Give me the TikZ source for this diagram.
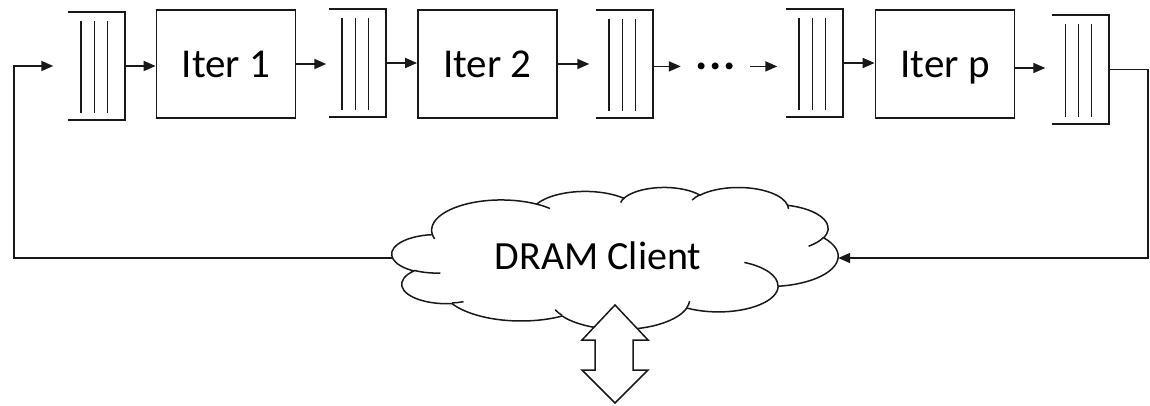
\documentclass[tikz,border=0pt]{standalone}
\usepackage{fontspec}
\setmainfont{Carlito}
\usetikzlibrary{arrows.meta,calc}
\newcommand\cldarc[4]{%
  \pgfextra{%
    \pgfmathparse{atan2((#1)*sin(#3),(#2)*cos(#3))}\global\let\cldA\pgfmathresult
    \pgfmathparse{atan2((#1)*sin((#3)+(#4)),(#2)*cos((#3)+(#4)))}\global\let\cldB\pgfmathresult
    \pgfmathparse{\cldB-\cldA}\global\let\cldD\pgfmathresult
    \pgfmathparse{ifthenelse((#4)>0, ifthenelse(\cldD<0,\cldD+360,\cldD), ifthenelse(\cldD>0,\cldD-360,\cldD))}\global\let\cldD\pgfmathresult
  }%
  arc[x radius=#1, y radius=#2, start angle=\cldA, delta angle=\cldD]}
\tikzset{
  ln/.style={line width=1.8pt, draw=black!90},
  iterbox/.style={ln, draw, minimum width=139pt, minimum height=108pt, inner sep=0pt,
    text height=28pt, text depth=0pt, font=\fontsize{41}{48}\selectfont},
  qframe/.style={minimum width=56pt, minimum height=108pt, inner sep=0pt},
  conn/.style={ln, -{Triangle[length=12pt,width=10pt]}},
  cloudline/.style={line width=1.5pt, draw=black!90},
}
\newcommand\drawqueue[1]{%
  \draw[ln] (#1.north west) -- (#1.north east) -- (#1.south east) -- (#1.south west);
  \foreach \f in {0.232,0.464,0.696}
    \draw[ln] ($(#1.north west)!\f!(#1.north east)+(0,9)$) -- ($(#1.south west)!\f!(#1.south east)+(0,-7)$);
}
\begin{document}
\begin{tikzpicture}[x=1pt,y=-1pt]
\useasboundingbox (0,0) rectangle (1150,406);
% queues and iteration boxes
\node[qframe] (q1) at (96.5,66) {};
\node[iterbox] (it1) at (226,64) {Iter 1};
\node[qframe] (q2) at (357.5,63) {};
\node[iterbox] (it2) at (487.5,64) {Iter 2};
\node[qframe] (q3) at (624.5,64) {};
\node[anchor=base, inner sep=0pt, font=\fontsize{46}{52}\selectfont\bfseries] (dots) at (716,69.5) {.\kern1.6pt.\kern1.6pt.};
\node[qframe] (q4) at (814.5,63) {};
\node[iterbox] (itp) at (945,64) {Iter p};
\node[qframe] (q5) at (1080.5,69.5) {};
\drawqueue{q1}
\drawqueue{q2}
\drawqueue{q3}
\drawqueue{q4}
\drawqueue{q5}
% cloud
\node[minimum width=446pt, minimum height=142pt, inner sep=0pt] (cloud) at (615,258) {};
\begin{scope}[shift={(392,187)}, x=0.10324pt, y=-0.03287pt]
\draw[cloudline, fill=white] (390,1437)
  \cldarc{675.3}{919.0}{-190.4875}{123.7805}
  \cldarc{533.3}{726.7}{-144.1024}{89.9452}
  \cldarc{436.5}{594.5}{-145.8079}{99.7230}
  \cldarc{485.7}{659.5}{-130.9861}{117.2417}
  \cldarc{533.3}{727.3}{-78.7089}{109.0269}
  \cldarc{677.5}{922.0}{-46.2673}{130.2690}
  \cldarc{578.5}{786.7}{0.6250}{114.0333}
  \cldarc{675.2}{921.5}{22.4516}{115.1726}
  \cldarc{772.0}{1054.3}{66.2426}{75.7110}
  \cldarc{436.0}{591.8}{-274.9421}{146.7356}
  \cldarc{434.5}{594.5}{-246.8285}{152.5189}
  -- cycle;
\draw[cloudline]
  (469.3,2617.7) \cldarc{434.5}{594.5}{86.7420}{26.4295}
  (692.8,3489.9) \cldarc{436.0}{591.8}{73.6105}{11.4475}
  (1647.8,3909.0) \cldarc{675.2}{921.5}{137.6242}{14.0811}
  (2882.7,3475.1) \cldarc{675.2}{921.5}{6.4533}{15.9984}
  (3412.9,2295.4) \cldarc{578.5}{786.7}{-70.2924}{70.9174}
  (4179.8,1535.4) \cldarc{533.3}{727.3}{30.3180}{27.7515}
  (3832.4,542.6) \cldarc{485.7}{659.5}{-13.7443}{14.8589}
  (2907.8,395.2) \cldarc{485.7}{659.5}{-149.1815}{18.1954}
  (2214.1,472.0) \cldarc{436.5}{594.5}{-163.4943}{17.6864}
  (1400.0,519.2) \cldarc{675.3}{919.0}{-66.7070}{12.3194}
  (412.7,1578.9) \cldarc{675.3}{919.0}{157.6544}{11.8582};
\end{scope}
\node[inner sep=0pt, font=\fontsize{40}{48}\selectfont] (dram) at (598,256) {DRAM Client};
% double arrow
\draw[cloudline, fill=white] (615,305) -- (648,340) -- (633,340) -- (633,370) -- (648,370)
  -- (615,403) -- (582,370) -- (595,370) -- (595,340) -- (582,340) -- cycle;
% connectors
\coordinate (fbL) at (14,258);
\coordinate (fbR) at (1148,258);
\draw[conn, shorten >=15pt] (cloud.west) -- (fbL) |- (q1.west);
\draw[conn] (q1.east) -- (q1.east -| it1.west);
\draw[conn, shorten >=3pt] (it1.east) -- (it1.east -| q2.west);
\draw[conn] (q2.east) -- (q2.east -| it2.west);
\draw[conn, shorten >=7pt] (it2.east) -- (it2.east -| q3.west);
\draw[conn] (q3.east |- dots.west) -- ($(dots.west)+(-15,0)$);
\draw[conn, shorten >=9pt] ($(dots.east)+(14,0)$) -- (dots.east -| q4.west);
\draw[conn] (q4.east) -- (q4.east -| itp.west);
\draw[conn, shorten >=7pt] (itp.east |- 0,68) -- (q5.west |- 0,68);
\draw[conn] (q5.east) -| (fbR) -- (cloud.east);
\end{tikzpicture}
\end{document}
